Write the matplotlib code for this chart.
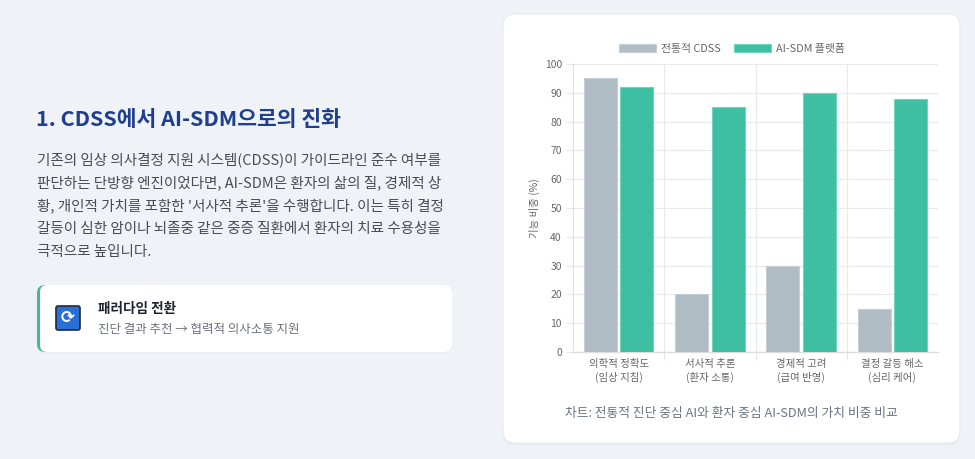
import matplotlib
matplotlib.use('Agg')

import matplotlib.pyplot as plt
import matplotlib.patches as mpatches
from matplotlib.patches import FancyBboxPatch
import numpy as np

plt.rcParams['font.family'] = ['Noto Sans CJK KR', 'DejaVu Sans']

# data
categories = ['의학적 정확도\n(임상 지침)', '서사적 추론\n(환자 소통)',
              '경제적 고려\n(급여 반영)', '결정 갈등 해소\n(심리 케어)']
cdss_values = [95, 20, 30, 15]
aisdm_values = [92, 85, 90, 88]
series_names = ['전통적 CDSS', 'AI-SDM 플랫폼']
y_ticks = [0, 10, 20, 30, 40, 50, 60, 70, 80, 90, 100]

title = '1. CDSS에서 AI-SDM으로의 진화'
paragraph = [
    '기존의 임상 의사결정 지원 시스템(CDSS)이 가이드라인 준수 여부를',
    '판단하는 단방향 엔진이었다면, AI-SDM은 환자의 삶의 질, 경제적 상',
    "황, 개인적 가치를 포함한 '서사적 추론'을 수행합니다. 이는 특히 결정",
    '갈등이 심한 암이나 뇌졸중 같은 중증 질환에서 환자의 치료 수용성을',
    '극적으로 높입니다.',
]
callout_title = '패러다임 전환'
callout_text = '진단 결과 추천 → 협력적 의사소통 지원'
caption = '차트: 전통적 진단 중심 AI와 환자 중심 AI-SDM의 가치 비중 비교'

GRAY = '#b0bcc4'
GREEN = '#3ebfa1'
W, H = 975, 459

fig = plt.figure(figsize=(W / 100, H / 100), dpi=100, facecolor='#eff3f8')

# background layer in pixel coordinates
bg = fig.add_axes([0, 0, 1, 1])
bg.set_xlim(0, W)
bg.set_ylim(H, 0)
bg.axis('off')

# chart card with soft shadow
for off, a in [(3, 0.04), (1.5, 0.05)]:
    bg.add_patch(FancyBboxPatch((503, 14 + off), 457, 429, boxstyle='round,pad=0,rounding_size=12',
                                fc='#8090a0', ec='none', alpha=a))
bg.add_patch(FancyBboxPatch((503, 14), 457, 429, boxstyle='round,pad=0,rounding_size=12',
                            fc='white', ec='#e6eaf0', lw=0.8))

# left texts
bg.text(36, 119, title, fontsize=15.5, fontweight='bold', color='#1e3f8f', va='center', ha='left')
for i, line in enumerate(paragraph):
    bg.text(37, 160 + i * 23, line, fontsize=10.5, color='#474c55', va='center', ha='left')

# callout card
bg.add_patch(FancyBboxPatch((37, 285 + 1.5), 415, 67, boxstyle='round,pad=0,rounding_size=8',
                            fc='#8090a0', ec='none', alpha=0.05))
bg.add_patch(FancyBboxPatch((37, 285), 415, 67, boxstyle='round,pad=0,rounding_size=8',
                            fc='#45b69c', ec='none'))
bg.add_patch(FancyBboxPatch((40, 285), 412, 67, boxstyle='round,pad=0,rounding_size=7',
                            fc='white', ec='none'))
bg.add_patch(FancyBboxPatch((56, 306), 24, 24, boxstyle='round,pad=0,rounding_size=2',
                            fc='#2a6fd6', ec='#1d2a3a', lw=1.2))
bg.text(68, 318.5, '⟳', fontsize=12, color='white', ha='center', va='center',
        family=['DejaVu Sans'], fontweight='bold')
bg.text(98, 309, callout_title, fontsize=9.8, fontweight='bold', color='#1f2530', va='center')
bg.text(98, 329, callout_text, fontsize=9, color='#6b7280', va='center')

# chart axes
ax = fig.add_axes([573 / W, (H - 352) / H, (938 - 573) / W, (352 - 64) / H])
x = np.arange(len(categories))
bw = 0.36
ax.bar(x - 0.2, cdss_values, bw, color=GRAY, edgecolor='#c4ced4', lw=0.8, label=series_names[0], zorder=3)
ax.bar(x + 0.2, aisdm_values, bw, color=GREEN, edgecolor='#6fd6bd', lw=0.8, label=series_names[1], zorder=3)

ax.set_xlim(-0.5, len(categories) - 0.5)
ax.set_ylim(0, 100)
ax.set_yticks(y_ticks)
ax.set_xticks(x)
ax.set_xticklabels(categories, fontsize=7.5, color='#666666', linespacing=1.35)
ax.set_xticks(np.arange(len(categories) - 1) + 0.5, minor=True)
ax.tick_params(axis='x', which='major', length=0, pad=5)
ax.tick_params(axis='x', which='minor', length=6, color='#e6e6e6', width=0.8)
ax.tick_params(axis='y', length=5, color='#e6e6e6', width=0.8, labelsize=7.5, labelcolor='#666666', pad=3)
ax.grid(axis='y', color='#e9e9e9', lw=0.8, zorder=0)
ax.grid(axis='x', which='minor', color='#e9e9e9', lw=0.8, zorder=0)
for s in ['top', 'right']:
    ax.spines[s].set_visible(False)
ax.spines['left'].set_color('#e0e0e0')
ax.spines['bottom'].set_color('#dddddd')
ax.spines['left'].set_linewidth(0.8)
ax.spines['bottom'].set_linewidth(1.0)
ax.set_ylabel('기능 비중 (%)', fontsize=7.5, color='#666666', labelpad=3)

handles = [mpatches.Patch(fc=GRAY, ec='#c4ced4', lw=0.8), mpatches.Patch(fc=GREEN, ec='#6fd6bd', lw=0.8)]
leg = fig.legend(handles, series_names, loc='center', bbox_to_anchor=(732 / W, (H - 49) / H),
                 ncol=2, frameon=False, fontsize=7.8, handlelength=3.4, handleheight=0.8,
                 columnspacing=1.2, handletextpad=0.5, labelcolor='#666666')

bg.text(731, 413, caption, fontsize=9.2, color='#6b7280', style='italic', ha='center', va='center')

plt.savefig('out.png', dpi=100, facecolor=fig.get_facecolor())
